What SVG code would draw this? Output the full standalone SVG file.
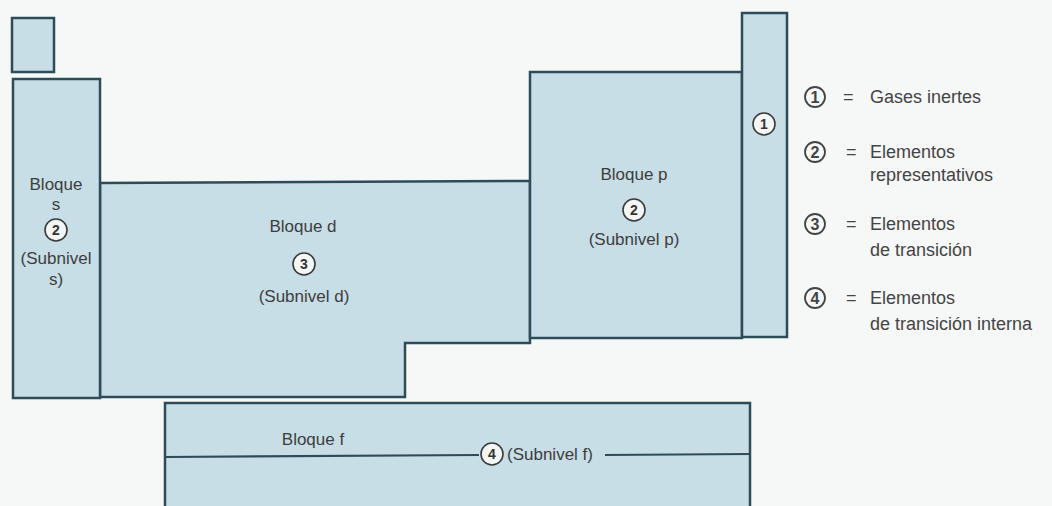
<svg xmlns="http://www.w3.org/2000/svg" width="1052" height="506" viewBox="0 0 1052 506">
<style>
.blk{fill:#c8dee7;stroke:#2e4c57;stroke-width:2.5;stroke-linejoin:miter}
.t{font-family:"Liberation Sans",Arial,sans-serif;font-size:17px;fill:#3d3d3d}
.m{text-anchor:middle}
.c{fill:#f4f6f6;stroke:#3a3a3a;stroke-width:1.6}
.n{font-family:"Liberation Sans",Arial,sans-serif;font-size:14px;font-weight:bold;fill:#333;text-anchor:middle}
.lg{font-family:"Liberation Sans",Arial,sans-serif;font-size:18px;fill:#444}
.lc{fill:none;stroke:#444;stroke-width:1.8}
.ln{font-family:"Liberation Sans",Arial,sans-serif;font-size:16px;font-weight:bold;fill:#444;text-anchor:middle}
.sep{stroke:#2e4c57;stroke-width:2.2;fill:none}
</style>
<rect width="1052" height="506" fill="#f6f7f7"/>
<g id="bloque-h">
<rect class="blk" x="12" y="18" width="42" height="54"/>
</g>
<g id="bloque-d">
<path class="blk" d="M100,183 L530,181 L530,343 L405,343 L405,397 L100,397 Z"/>
<text class="t m" x="303" y="232">Bloque d</text>
<circle class="c" cx="304" cy="264" r="11"/>
<text class="n" x="304" y="269">3</text>
<text class="t m" x="304" y="302">(Subnivel d)</text>
</g>
<g id="bloque-s">
<rect class="blk" x="13" y="79" width="87" height="319"/>
<text class="t m" x="56" y="190">Bloque</text>
<text class="t m" x="56" y="210">s</text>
<circle class="c" cx="56" cy="230" r="11"/>
<text class="n" x="56" y="235">2</text>
<text class="t m" x="56" y="264">(Subnivel</text>
<text class="t m" x="56" y="285">s)</text>
</g>
<g id="bloque-p">
<rect class="blk" x="530" y="72" width="212" height="266"/>
<text class="t m" x="634" y="180">Bloque p</text>
<circle class="c" cx="634" cy="210" r="11"/>
<text class="n" x="634" y="215">2</text>
<text class="t m" x="634" y="245">(Subnivel p)</text>
</g>
<g id="gases">
<rect class="blk" x="742" y="13" width="45" height="324"/>
<circle class="c" cx="764" cy="124" r="11"/>
<text class="n" x="764" y="129">1</text>
</g>
<g id="bloque-f">
<rect class="blk" x="165" y="403" width="585" height="110"/>
<text class="t m" x="313" y="445">Bloque f</text>
<circle class="c" cx="492" cy="454" r="11"/>
<text class="n" x="492" y="459">4</text>
<text class="t" x="507" y="460">(Subnivel f)</text>
</g>
<g id="connectors">
<path class="sep" d="M165,457 L479,455"/>
<path class="sep" d="M605,455 L750,454"/>
</g>
<g id="leyenda">
<circle class="lc" cx="815" cy="97" r="10"/>
<text class="ln" x="815" y="103">1</text>
<text class="lg" x="843" y="103">=</text>
<text class="lg" x="870" y="103">Gases inertes</text>
<circle class="lc" cx="815" cy="152" r="10"/>
<text class="ln" x="815" y="158">2</text>
<text class="lg" x="846" y="158">=</text>
<text class="lg" x="870" y="158">Elementos</text>
<text class="lg" x="870" y="181">representativos</text>
<circle class="lc" cx="815" cy="224" r="10"/>
<text class="ln" x="815" y="230">3</text>
<text class="lg" x="846" y="230">=</text>
<text class="lg" x="870" y="230">Elementos</text>
<text class="lg" x="870" y="256">de transición</text>
<circle class="lc" cx="815" cy="298" r="10"/>
<text class="ln" x="815" y="304">4</text>
<text class="lg" x="846" y="304">=</text>
<text class="lg" x="870" y="304">Elementos</text>
<text class="lg" x="870" y="330">de transición interna</text>
</g>
</svg>
